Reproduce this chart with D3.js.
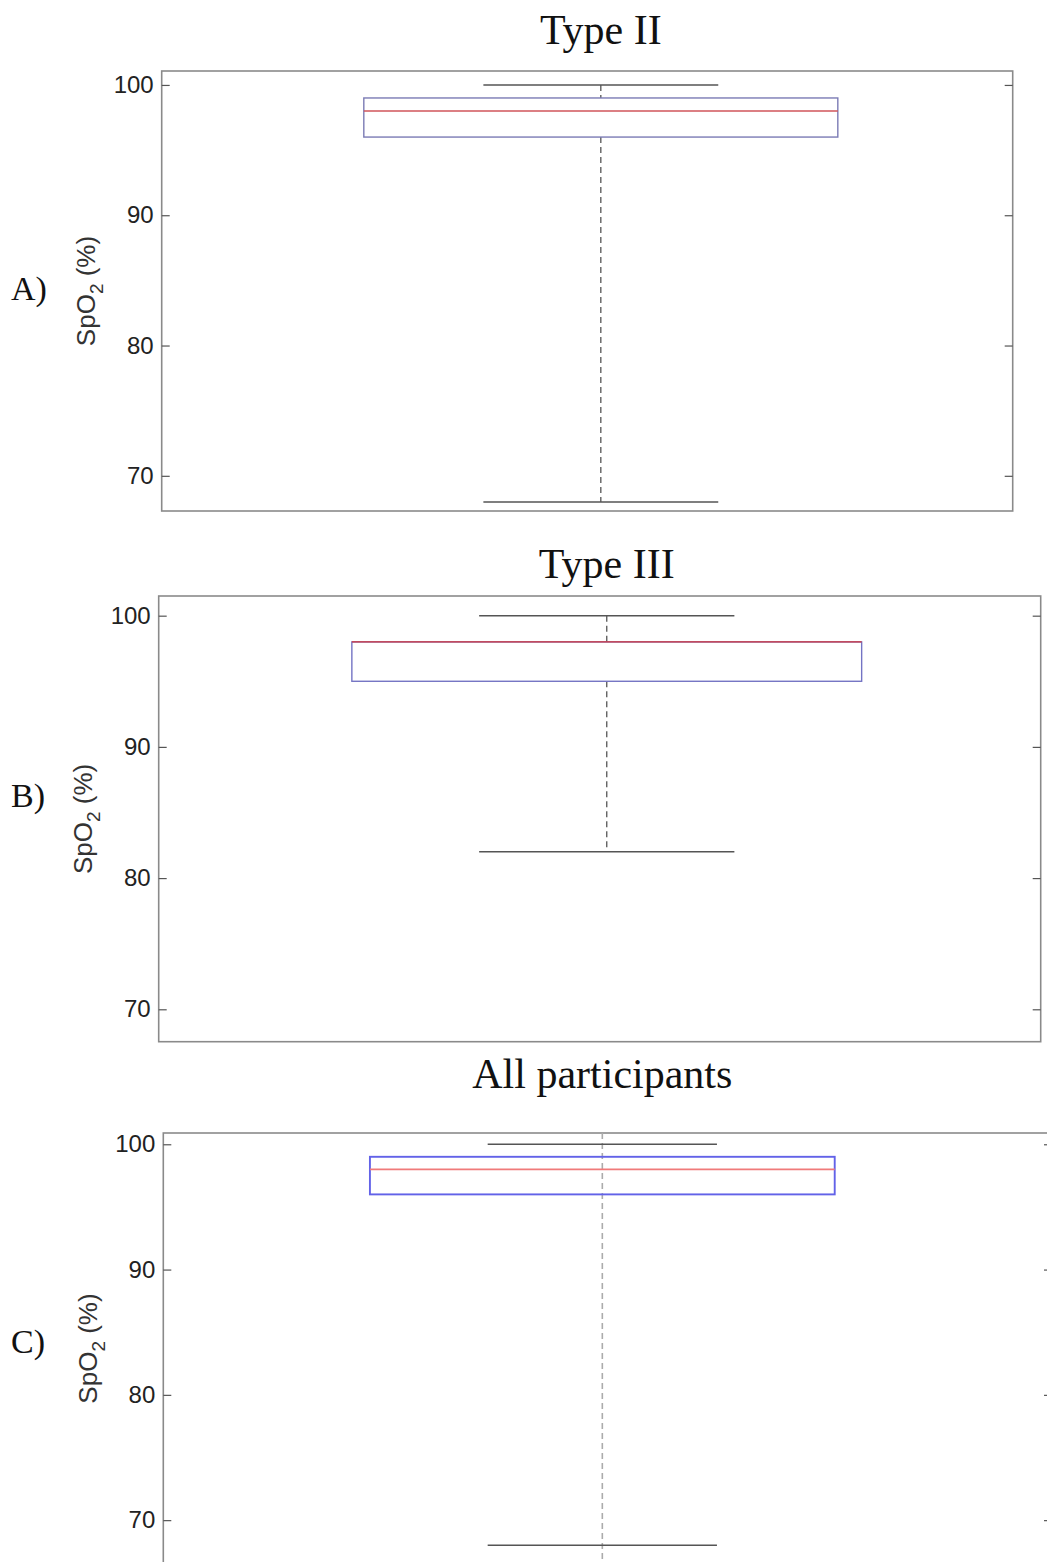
<!DOCTYPE html>
<html>
<head>
<meta charset="utf-8">
<script src="https://cdn.jsdelivr.net/npm/d3@7/dist/d3.min.js"></script>
<style>
  body { margin: 0; background: #fff; }
  svg { display: block; }
</style>
</head>
<body>
<script>
(function(){
    // data
    var panelLabels = ["A)", "B)", "C)"];
    var titles = ["Type II", "Type III", "All participants"];
    var lowerWhisker = [68, 82, 68];
    var q1 = [96, 95, 96];
    var medians = [98, 98, 98];
    var q3 = [99, 98, 99];
    var upperWhisker = [100, 100, 100];
    var yTicks = [70, 80, 90, 100];
    var yLimits = [[67.3, 101.07], [67.53, 101.5], [66.5, 100.9]];
    var xLimits = [[0.484, 1.484], [0.492, 1.492], [0.506, 1.506]];

    // layout
    var width = 1047, height = 1562;
    var frames = [
        {left: 161.7, right: 1012.7, top: 71, bottom: 511, titleY: 44, labelY: 300, ylabX: 95, boxHalf: 0.2785, capHalf: 0.138},
        {left: 158.7, right: 1040.7, top: 596, bottom: 1041.7, titleY: 578, labelY: 807, ylabX: 92, boxHalf: 0.289, capHalf: 0.1447},
        {left: 163.3, right: 1052, top: 1133, bottom: 1564, titleY: 1088, labelY: 1353, ylabX: 97, boxHalf: 0.2615, capHalf: 0.129}
    ];
    var axisColor = "#8a8a8a",
        tickColor = "#555",
        boxColors = ["#7b7bb5", "#7474c4", "#6262e8"],
        medColors = ["#d0555a", "#d0333a", "#f07a7a"],
        whiskColors = ["#555", "#555", "#ababab"],
        markWidth = [1.4, 1.4, 1.9];

    var svg = d3.select("body").append("svg")
        .attr("width", width)
        .attr("height", height);

    panelLabels.forEach(function(lab, i){
        var f = frames[i];
        var y = d3.scaleLinear().domain(yLimits[i]).range([f.bottom, f.top]);
        var x = d3.scaleLinear().domain(xLimits[i]).range([f.left, f.right]);
        var g = svg.append("g").attr("class", "panel");

        // title
        g.append("text")
            .attr("x", x(1))
            .attr("y", f.titleY)
            .attr("text-anchor", "middle")
            .style("font-family", "'Liberation Serif', 'Times New Roman', serif")
            .style("font-size", "42px")
            .attr("fill", "#111")
            .text(titles[i]);

        // panel letter
        g.append("text")
            .attr("x", 11)
            .attr("y", f.labelY)
            .style("font-family", "'Liberation Serif', 'Times New Roman', serif")
            .style("font-size", "34px")
            .attr("fill", "#111")
            .text(lab);

        // y label with subscript
        var yl = g.append("text")
            .attr("transform", "translate(" + f.ylabX + "," + ((f.top + f.bottom) / 2) + ") rotate(-90)")
            .attr("text-anchor", "middle")
            .style("font-family", "'Liberation Sans', Arial, sans-serif")
            .style("font-size", "26px")
            .attr("fill", "#333");
        yl.append("tspan").text("SpO");
        yl.append("tspan").attr("dy", 8).style("font-size", "19px").text("2");
        yl.append("tspan").attr("dy", -8).text(" (%)");

        // axes frame
        g.append("rect")
            .attr("x", f.left)
            .attr("y", f.top)
            .attr("width", f.right - f.left)
            .attr("height", f.bottom - f.top)
            .attr("fill", "none")
            .attr("stroke", axisColor)
            .attr("stroke-width", 1.6);

        var leftAxis = d3.axisLeft(y).tickValues(yTicks).tickSizeInner(-8).tickSizeOuter(0).tickPadding(8);
        var ga = g.append("g").attr("transform", "translate(" + f.left + ",0)").call(leftAxis);
        ga.select(".domain").remove();
        ga.selectAll("line").attr("stroke", tickColor).attr("stroke-width", 1.2);
        ga.selectAll("text")
            .attr("x", -8)
            .style("font-family", "'Liberation Sans', Arial, sans-serif")
            .style("font-size", "24px")
            .attr("fill", "#222");

        var rightAxis = d3.axisRight(y).tickValues(yTicks).tickSizeInner(-8).tickSizeOuter(0).tickFormat("");
        var gr = g.append("g").attr("transform", "translate(" + f.right + ",0)").call(rightAxis);
        gr.select(".domain").remove();
        gr.selectAll("line").attr("stroke", tickColor).attr("stroke-width", 1.2);

        // whiskers (dashed)
        var dash = "6,4";
        if (i === 2) {
            // full-height dashed line in the last panel
            g.append("line")
                .attr("x1", x(1)).attr("x2", x(1))
                .attr("y1", y(yLimits[i][1])).attr("y2", y(yLimits[i][0]))
                .attr("stroke", whiskColors[i])
                .attr("stroke-width", 1.6)
                .attr("stroke-dasharray", dash);
        } else {
            [[upperWhisker[i], q3[i]], [q1[i], lowerWhisker[i]]].forEach(function(seg){
                g.append("line")
                    .attr("x1", x(1)).attr("x2", x(1))
                    .attr("y1", y(seg[0])).attr("y2", y(seg[1]))
                    .attr("stroke", whiskColors[i])
                    .attr("stroke-width", 1.3)
                    .attr("stroke-dasharray", dash);
            });
        }

        // caps
        [upperWhisker[i], lowerWhisker[i]].forEach(function(v){
            g.append("line")
                .attr("x1", x(1 - f.capHalf)).attr("x2", x(1 + f.capHalf))
                .attr("y1", y(v)).attr("y2", y(v))
                .attr("stroke", "#555")
                .attr("stroke-width", 1.5);
        });

        // box
        g.append("rect")
            .attr("x", x(1 - f.boxHalf))
            .attr("y", y(q3[i]))
            .attr("width", x(1 + f.boxHalf) - x(1 - f.boxHalf))
            .attr("height", y(q1[i]) - y(q3[i]))
            .attr("fill", "none")
            .attr("stroke", boxColors[i])
            .attr("stroke-width", markWidth[i]);

        // median
        g.append("line")
            .attr("x1", x(1 - f.boxHalf)).attr("x2", x(1 + f.boxHalf))
            .attr("y1", y(medians[i])).attr("y2", y(medians[i]))
            .attr("stroke", medColors[i])
            .attr("stroke-width", markWidth[i]);
    });
})();
</script>
</body>
</html>
